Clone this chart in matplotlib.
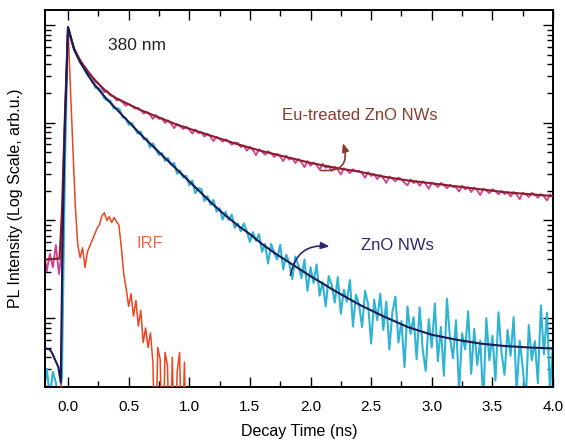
import numpy as np
import matplotlib
matplotlib.use("Agg")
import matplotlib.pyplot as plt
from matplotlib.ticker import LogLocator, MultipleLocator, NullFormatter

plt.rcParams['font.family'] = ['Liberation Sans', 'DejaVu Sans']

# ---- measured decays (log10 counts), channels every 25 ps from -0.225 ns ----
T_START, T_STEP = -0.225, 0.025

zno_log = [
    -0.56, -0.75, -0.52, -0.80, -0.55, -0.66, -0.85, -0.60, 1.60,
    2.97, 2.86, 2.75, 2.69, 2.62, 2.58, 2.51, 2.47,
    2.44, 2.36, 2.355, 2.33, 2.25, 2.23, 2.225, 2.15,
    2.15, 2.14, 2.055, 2.05, 1.98, 2.00, 1.945, 1.89,
    1.91, 1.83, 1.84, 1.75, 1.79, 1.73, 1.67, 1.69,
    1.61, 1.64, 1.57, 1.59, 1.48, 1.51, 1.44, 1.46,
    1.36, 1.41, 1.28, 1.33, 1.32, 1.20, 1.25, 1.16,
    1.21, 1.09, 1.125, 1.01, 1.09, 1.005, 1.06, 0.925,
    0.97, 0.89, 0.97, 0.89, 0.78, 0.88, 0.79, 0.86,
    0.68, 0.76, 0.56, 0.76, 0.67, 0.60, 0.75, 0.50,
    0.65, 0.56, 0.40, 0.63, 0.54, 0.41, 0.60, 0.28,
    0.52, 0.36, 0.55, 0.23, 0.37, 0.12, 0.43, 0.34,
    0.16, 0.42, 0.045, 0.29, 0.17, 0.39, -0.085, 0.24,
    0.14, -0.09, 0.28, 0.14, -0.26, 0.19, -0.02, 0.25,
    -0.12, 0.17, -0.32, 0.06, 0.22, -0.25, -0.03, -0.50,
    0.12, -0.16, 0.01, -0.42, 0.11, -0.32, -0.54, -0.01,
    -0.30, 0.15, -0.44, -0.09, -0.59, 0.20, -0.20, -0.41,
    -0.02, -0.75, -0.155, -0.32, 0.07, -0.57, -0.11, -0.48,
    -0.23, -0.86, 0.00, -0.43, -0.18, -0.64, 0.06, -0.35,
    -0.58, -0.12, -0.385, 0.01, -0.75, -0.23, -0.50, -0.86,
    -0.07, -0.43, -0.235, -0.665, 0.13, -0.37, 0.055, -0.74,
    -0.25,
]

eu_log = [
    0.55, 0.72, 0.48, 0.66, 0.52, 0.75, 0.45, 0.70, 1.90,
    2.97, 2.86, 2.76, 2.69, 2.64, 2.59, 2.55, 2.50,
    2.47, 2.42, 2.405, 2.365, 2.315, 2.323, 2.28, 2.273,
    2.23, 2.24, 2.212, 2.175, 2.195, 2.172, 2.145, 2.153,
    2.13, 2.094, 2.113, 2.085, 2.04, 2.08, 2.039, 2.047,
    1.998, 2.026, 1.993, 1.945, 1.988, 1.966, 1.936, 1.962,
    1.932, 1.89, 1.932, 1.894, 1.904, 1.858, 1.888, 1.858,
    1.812, 1.858, 1.836, 1.806, 1.832, 1.81, 1.776, 1.798,
    1.795, 1.751, 1.768, 1.714, 1.755, 1.721, 1.668, 1.729,
    1.705, 1.673, 1.71, 1.688, 1.65, 1.683, 1.655, 1.608,
    1.665, 1.623, 1.64, 1.588, 1.63, 1.598, 1.545, 1.608,
    1.56, 1.594, 1.568, 1.521, 1.58, 1.539, 1.558, 1.506,
    1.55, 1.52, 1.47, 1.535, 1.515, 1.485, 1.525, 1.505,
    1.51, 1.484, 1.4375, 1.496, 1.455, 1.474, 1.4225, 1.466,
    1.435, 1.385, 1.45, 1.43, 1.40, 1.44, 1.42, 1.385,
    1.36, 1.421, 1.3825, 1.404, 1.355, 1.401, 1.3725, 1.324,
    1.39, 1.371, 1.3425, 1.384, 1.365, 1.331, 1.3675, 1.344,
    1.34, 1.296, 1.3575, 1.319, 1.34, 1.291, 1.3375, 1.309,
    1.26, 1.326, 1.3075, 1.279, 1.32, 1.301, 1.2675, 1.304,
    1.27, 1.2925, 1.245, 1.2925, 1.265, 1.2175, 1.285, 1.2675,
    1.24, 1.2825, 1.265, 1.2325, 1.27, 1.2475, 1.205, 1.2675,
    1.24,
]

# instrument response, channels every 20 ps from -0.08 ns
IRF_START, IRF_STEP = -0.08, 0.02
irf_log = [
    -1.5, -1.0, 1.52, 2.23,
    2.98, 2.35, 1.75, 1.15, 0.75, 0.62, 0.72, 0.52, 0.68, 0.74,
    0.80, 0.86, 0.92, 0.96, 1.05, 1.08, 1.00, 1.04, 0.98, 1.03,
    0.99, 0.95, 0.72, 0.45, 0.30, 0.12, 0.25, 0.02, 0.18, -0.08,
    0.08, -0.25, -0.10, -0.30, -0.15, -0.45, -1.5, -0.30, -0.42, -1.5,
    -0.35, -0.48, -1.5, -0.40, -1.5, -0.55, -0.35, -1.5, -0.45, -1.5,
    -1.5,
]

# ---- fitted decay curves (knot times in ns, log10 intensity) ----
zno_fit_t = [-0.19, -0.15, -0.13, -0.08, -0.06, -0.045, -0.025, 0.0, 0.05,
             0.1, 0.2, 0.3, 0.4, 0.5, 0.6, 0.7, 0.8, 0.9, 1.0, 1.1, 1.2,
             1.3, 1.4, 1.5, 1.6, 1.7, 1.8, 1.9, 2.0, 2.2, 2.4, 2.6, 2.8,
             3.0, 3.2, 3.4, 3.6, 3.8, 4.0]
zno_fit_log = [-0.31, -0.32, -0.36, -0.50, -0.66, 0.80, 2.00, 2.98, 2.75,
               2.62, 2.42, 2.27, 2.14, 2.01, 1.88, 1.76, 1.64, 1.52, 1.40,
               1.28, 1.16, 1.05, 0.95, 0.86, 0.76, 0.67, 0.59, 0.51, 0.43,
               0.28, 0.14, 0.02, -0.09, -0.17, -0.22, -0.26, -0.285, -0.30,
               -0.31]

eu_fit_t = [-0.19, -0.07, -0.05, -0.025, 0.0, 0.05, 0.1, 0.15, 0.2, 0.25,
            0.3, 0.35, 0.4, 0.5, 0.6, 0.7, 0.8, 0.9, 1.0, 1.2, 1.4, 1.6,
            1.8, 2.0, 2.2, 2.4, 2.6, 2.8, 3.0, 3.2, 3.4, 3.6, 3.8, 4.0]
eu_fit_log = [0.60, 0.61, 1.10, 2.10, 2.98, 2.76, 2.64, 2.55, 2.47, 2.40,
              2.34, 2.29, 2.25, 2.19, 2.13, 2.08, 2.03, 1.98, 1.94, 1.86,
              1.78, 1.71, 1.65, 1.59, 1.54, 1.50, 1.45, 1.41, 1.38, 1.35,
              1.32, 1.29, 1.27, 1.25]

x_ticks = [0.0, 0.5, 1.0, 1.5, 2.0, 2.5, 3.0, 3.5, 4.0]

# ---- colours ----
C_ZNO_DATA = "#2fb4d4"
C_ZNO_FIT = "#1d1a5a"
C_EU_DATA = "#d2408f"
C_EU_FIT = "#8a1e2a"
C_IRF = "#ee4420"

t_data = T_START + T_STEP * np.arange(len(zno_log))
t_irf = IRF_START + IRF_STEP * np.arange(len(irf_log))

fig = plt.figure(figsize=(5.65, 4.41), dpi=100)
ax = fig.add_axes([0.0796, 0.1224, 0.8992, 0.8549])

ax.plot(t_data, 10.0 ** np.array(eu_log), color=C_EU_DATA, lw=1.3, zorder=2)
ax.plot(t_data, 10.0 ** np.array(zno_log), color=C_ZNO_DATA, lw=1.5, zorder=2)
ax.plot(t_irf, 10.0 ** np.array(irf_log), color=C_IRF, lw=1.1, zorder=3)
ax.plot(eu_fit_t, 10.0 ** np.array(eu_fit_log), color=C_EU_FIT, lw=1.5, zorder=4)
ax.plot(zno_fit_t, 10.0 ** np.array(zno_fit_log), color=C_ZNO_FIT, lw=1.5, zorder=4)

ax.set_yscale("log")
ax.set_xlim(-0.19, 4.0)
ax.set_ylim(10 ** -0.705, 10 ** 3.155)

ax.set_xticks(x_ticks)
ax.set_xticklabels([f"{v:.1f}" for v in x_ticks])
ax.xaxis.set_minor_locator(MultipleLocator(0.25))
ax.yaxis.set_major_locator(LogLocator(base=10))
ax.yaxis.set_minor_locator(LogLocator(base=10, subs=np.arange(2, 10)))
ax.yaxis.set_major_formatter(NullFormatter())
ax.yaxis.set_minor_formatter(NullFormatter())

ax.tick_params(which="both", direction="in", top=True, right=True, width=1.0)
ax.tick_params(which="major", length=7)
ax.tick_params(which="minor", length=4)
ax.tick_params(axis="x", labelsize=11, pad=9)
for s in ax.spines.values():
    s.set_linewidth(1.4)

ax.set_xlabel("Decay Time (ns)", fontsize=11.5)
ax.xaxis.set_label_coords(0.5, -0.098)
ax.set_ylabel("PL Intensity (Log Scale, arb.u.)", fontsize=11.5)
ax.yaxis.set_label_coords(-0.044, 0.5)

ax.text(0.567, 10 ** 2.795, "380 nm", fontsize=12.5, color="#222222",
        ha="center", va="center")
ax.text(2.41, 10 ** 2.079, "Eu-treated ZnO NWs", fontsize=12, color="#8e3a2c",
        ha="center", va="center")
ax.text(2.72, 10 ** 0.748, "ZnO NWs", fontsize=12, color="#2c2870",
        ha="center", va="center")
ax.text(0.675, 10 ** 0.769, "IRF", fontsize=12, color="#ea6a4a",
        ha="center", va="center")

ax.annotate("", xy=(2.26, 10 ** 1.82), xytext=(2.06, 10 ** 1.516),
            arrowprops=dict(arrowstyle="-|>,head_length=0.5,head_width=0.2",
                            color="#8e3a2c", lw=1.2,
                            connectionstyle="arc3,rad=0.8"), zorder=5)
ax.annotate("", xy=(2.18, 10 ** 0.73), xytext=(1.83, 10 ** 0.41),
            arrowprops=dict(arrowstyle="-|>,head_length=0.5,head_width=0.2",
                            color="#2c2870", lw=1.2,
                            connectionstyle="arc3,rad=-0.5"), zorder=5)

fig.savefig("out.png", dpi=100)
